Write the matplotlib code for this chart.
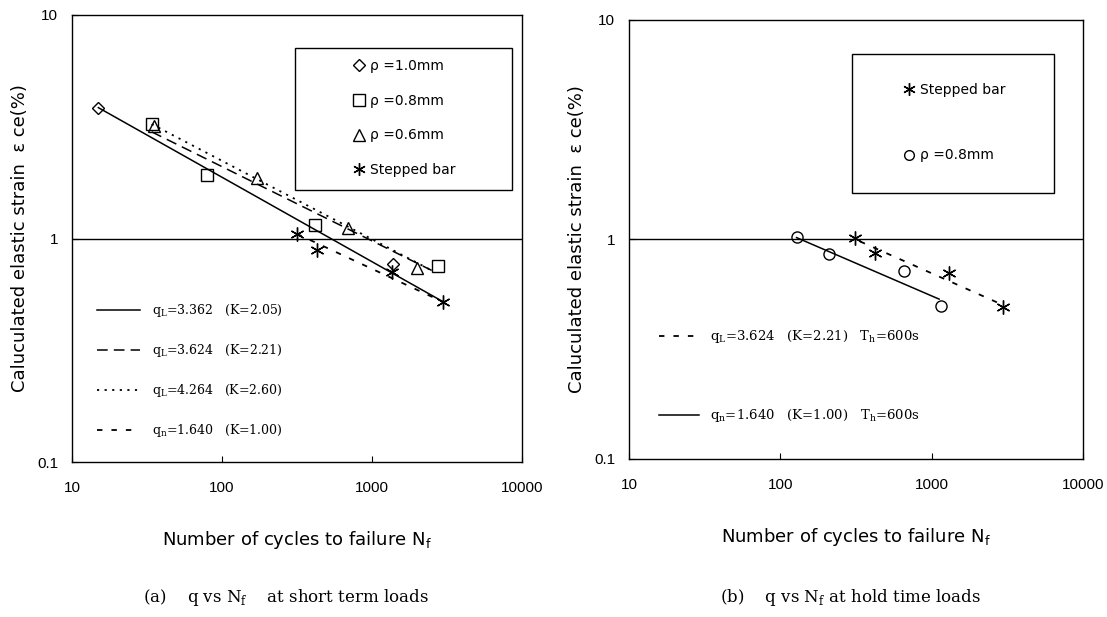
import matplotlib
matplotlib.use("Agg")
import matplotlib.pyplot as plt
from matplotlib.lines import Line2D
from matplotlib.patches import Rectangle

# ---- data ----
# (a) short term loads
rho10_n = [15, 1380]
rho10_e = [3.85, 0.77]
rho08_n = [34, 80, 415, 2750]
rho08_e = [3.25, 1.93, 1.15, 0.75]
rho06_n = [35, 170, 690, 2000]
rho06_e = [3.2, 1.87, 1.11, 0.74]
step_a_n = [315, 430, 1360, 2980]
step_a_e = [1.05, 0.89, 0.71, 0.52]

fit_k205_n = [15, 3000]
fit_k205_e = [3.85, 0.52]
fit_k221_n = [34, 2500]
fit_k221_e = [3.0, 0.72]
fit_k260_n = [34, 2500]
fit_k260_e = [3.25, 0.72]
fit_k100_n = [315, 2980]
fit_k100_e = [1.05, 0.52]

# (b) hold time loads
circ_n = [128, 210, 660, 1150]
circ_e = [1.03, 0.86, 0.72, 0.50]
step_b_n = [310, 420, 1300, 2950]
step_b_e = [1.02, 0.87, 0.70, 0.49]

fit_b_k221_n = [336, 2830]
fit_b_k221_e = [0.98, 0.51]
fit_b_k100_n = [128, 1120]
fit_b_k100_e = [1.02, 0.535]

xticks = [10, 100, 1000, 10000]
yticks = [0.1, 1, 10]

SANS = "Liberation Sans"
WIDE = "DejaVu Sans"
SERIF = "DejaVu Serif"
ASTER = (6, 2, 0)

plt.rcParams["font.family"] = SANS


def setup_axes(ax):
    ax.set_xscale("log")
    ax.set_yscale("log")
    ax.set_xlim(10, 10000)
    ax.set_ylim(0.1, 10)
    ax.set_xticks(xticks)
    ax.set_xticklabels([str(t) for t in xticks])
    ax.set_yticks(yticks)
    ax.set_yticklabels(["0.1", "1", "10"])
    ax.minorticks_off()
    ax.tick_params(direction="in", length=4, labelsize=11, top=False, right=False)
    ax.tick_params(axis="x", pad=14)
    ax.tick_params(axis="y", pad=10)
    ax.axhline(1, color="black", lw=1.0)
    for s in ax.spines.values():
        s.set_linewidth(1.0)
    ax.set_xlabel("Number of cycles to failure N$_\\mathregular{f}$",
                  family=WIDE, fontsize=13, labelpad=24)
    ax.set_ylabel("Caluculated elastic strain  \u03b5 ce(%)",
                  family=WIDE, fontsize=13, labelpad=6)


fig = plt.figure(figsize=(11.07, 6.17), dpi=100)
ax1 = fig.add_axes([0.065, 0.2512, 0.4065, 0.7245])
ax2 = fig.add_axes([0.5682, 0.2561, 0.4101, 0.7115])
setup_axes(ax1)
setup_axes(ax2)

mk = dict(color="black", markerfacecolor="none", linestyle="none", markeredgewidth=1.0)

# ---- panel (a) ----
ax1.plot(fit_k205_n, fit_k205_e, color="black", lw=1.1)
ax1.plot(fit_k221_n, fit_k221_e, color="black", lw=1.1, dashes=(7, 4))
ax1.plot(fit_k260_n, fit_k260_e, color="black", lw=1.3, dashes=(1.2, 3))
ax1.plot(fit_k100_n, fit_k100_e, color="black", lw=1.3, dashes=(3, 5))
ax1.plot(rho10_n, rho10_e, marker="D", markersize=6, **mk)
ax1.plot(rho08_n, rho08_e, marker="s", markersize=9, **mk)
ax1.plot(rho06_n, rho06_e, marker="^", markersize=9, **mk)
ax1.plot(step_a_n, step_a_e, marker=ASTER, markersize=10, **mk)

ax1.add_patch(Rectangle((0.496, 0.609), 0.482, 0.317, transform=ax1.transAxes,
                        fill=False, edgecolor="black", lw=1.0))
h_a = [
    Line2D([], [], marker="D", markersize=6, **mk),
    Line2D([], [], marker="s", markersize=8, **mk),
    Line2D([], [], marker="^", markersize=8, **mk),
    Line2D([], [], marker=ASTER, markersize=9, **mk),
]
lab_a = ["\u03c1 =1.0mm", "\u03c1 =0.8mm", "\u03c1 =0.6mm", "Stepped bar"]
leg1 = ax1.legend(h_a, lab_a, loc="upper left", bbox_to_anchor=(0.60, 0.93),
                  frameon=False, handlelength=0.6, handletextpad=0.5,
                  labelspacing=1.5, prop={"family": WIDE, "size": 10})
ax1.add_artist(leg1)

h_fit_a = [
    Line2D([], [], color="black", lw=1.1),
    Line2D([], [], color="black", lw=1.1, dashes=(7, 4)),
    Line2D([], [], color="black", lw=1.3, dashes=(1.2, 3)),
    Line2D([], [], color="black", lw=1.3, dashes=(3, 5)),
]
lab_fit_a = [
    "q$_\\mathregular{L}$=3.362   (K=2.05)",
    "q$_\\mathregular{L}$=3.624   (K=2.21)",
    "q$_\\mathregular{L}$=4.264   (K=2.60)",
    "q$_\\mathregular{n}$=1.640   (K=1.00)",
]
ax1.legend(h_fit_a, lab_fit_a, loc="upper left", bbox_to_anchor=(0.03, 0.383),
           frameon=False, handlelength=3.5, handletextpad=0.9, labelspacing=1.85,
           prop={"family": SERIF, "size": 9})

# ---- panel (b) ----
ax2.plot(fit_b_k100_n, fit_b_k100_e, color="black", lw=1.1)
ax2.plot(fit_b_k221_n, fit_b_k221_e, color="black", lw=1.3, dashes=(3, 5))
ax2.plot(circ_n, circ_e, marker="o", markersize=8, **mk)
ax2.plot(step_b_n, step_b_e, marker=ASTER, markersize=10, **mk)

ax2.add_patch(Rectangle((0.491, 0.605), 0.445, 0.318, transform=ax2.transAxes,
                        fill=False, edgecolor="black", lw=1.0))
h_b = [
    Line2D([], [], marker=ASTER, markersize=9, **mk),
    Line2D([], [], marker="o", markersize=7, **mk),
]
leg2 = ax2.legend(h_b, ["Stepped bar", "\u03c1 =0.8mm"], loc="upper left",
                  bbox_to_anchor=(0.58, 0.885), frameon=False, handlelength=0.6,
                  handletextpad=0.5, labelspacing=3.7, prop={"family": WIDE, "size": 10})
ax2.add_artist(leg2)

h_fit_b = [
    Line2D([], [], color="black", lw=1.3, dashes=(3, 5)),
    Line2D([], [], color="black", lw=1.1),
]
lab_fit_b = [
    "q$_\\mathregular{L}$=3.624   (K=2.21)   T$_\\mathregular{h}$=600s",
    "q$_\\mathregular{n}$=1.640   (K=1.00)   T$_\\mathregular{h}$=600s",
]
ax2.legend(h_fit_b, lab_fit_b, loc="upper left", bbox_to_anchor=(0.04, 0.325),
           frameon=False, handlelength=3.0, handletextpad=0.9, labelspacing=4.7,
           prop={"family": SERIF, "size": 9.5})

# ---- captions ----
fig.text(0.258, 0.031, "(a)    q vs N$_\\mathregular{f}$    at short term loads",
         ha="center", va="center", family=SERIF, fontsize=12)
fig.text(0.768, 0.031, "(b)    q vs N$_\\mathregular{f}$ at hold time loads",
         ha="center", va="center", family=SERIF, fontsize=12)

fig.savefig("out.png", dpi=100)
